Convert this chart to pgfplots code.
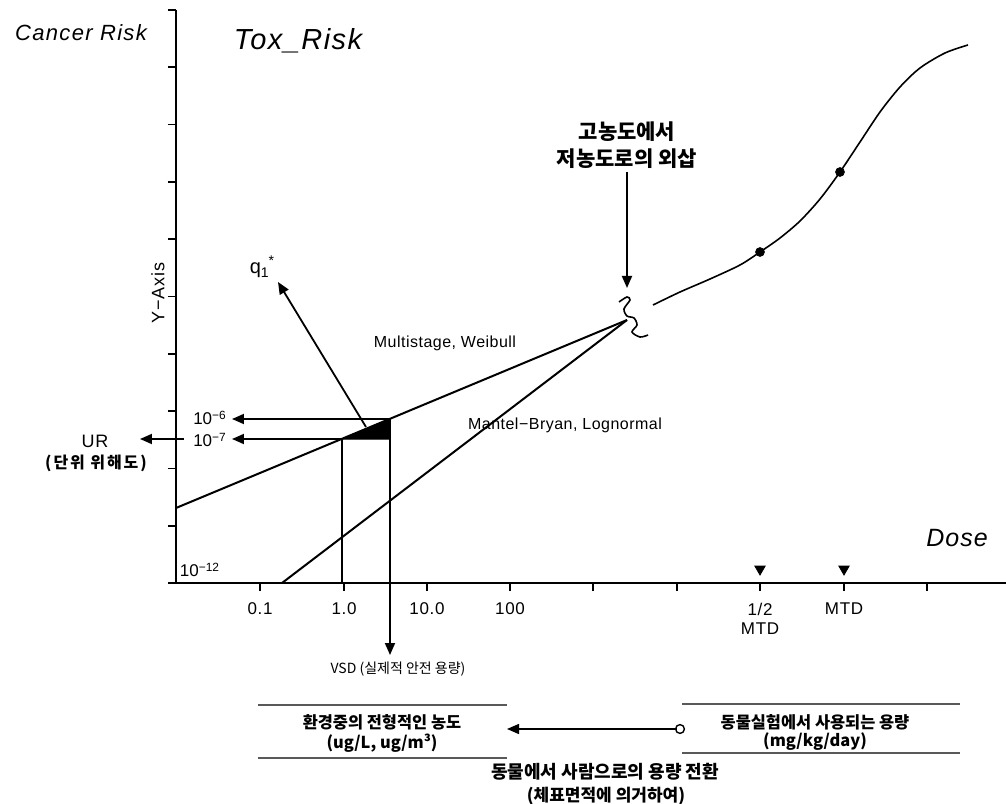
\documentclass[border=0pt]{standalone}
\usepackage{fontspec}
\setmainfont{Liberation Sans}
\newfontfamily\kr{Noto Sans CJK KR}
\usepackage{pgfplots}
\pgfplotsset{compat=1.18}
\usetikzlibrary{arrows.meta}
\begin{document}
\begin{tikzpicture}[>={Triangle[length=6pt,width=5pt]}]
\path[use as bounding box] (-88pt,-110pt) rectangle (415pt,291.5pt);
\begin{axis}[
  scale only axis, width=415pt, height=286.5pt,
  xmin=176, xmax=1006, ymin=0, ymax=573,
  axis x line*=bottom, axis y line*=left,
  axis line style={-, line width=1pt},
  clip=false,
  tick align=outside, major tick length=4pt,
  tick style={line width=0.8pt, black},
  xtick={260,344,427,510,593,677,760,844,927},
  xticklabels={0.1,1.0,10.0,100,,,{1/2\\MTD},MTD,},
  xticklabel style={align=center, font=\addfontfeature{LetterSpace=4}\fontsize{8.5}{9.5}\selectfont, yshift=-2.5pt},
  ytick={0,57.3,114.6,171.9,229.2,286.5,343.8,401.1,458.4,515.7,573},
  yticklabels={},
  /pgf/number format/assume math mode=true,
]
% model lines
\addplot[black, line width=1pt] coordinates {(176,75) (627,263)};
\addplot[black, line width=1pt] coordinates {(282,0) (627,263)};
\addplot[black, fill=black, line width=0.6pt] coordinates {(342,144) (390,164) (390,144)} -- cycle;
% arrows to risk levels
\addplot[black, line width=0.9pt, ->] coordinates {(390,164) (232,164)};
\addplot[black, line width=0.9pt, ->] coordinates {(342,144) (232,144)};
\addplot[black, line width=0.9pt] coordinates {(342,144) (342,0)};
\addplot[black, line width=0.9pt, ->] coordinates {(390,164) (390,-72)};
\addplot[black, line width=0.9pt, ->] coordinates {(366,156) (278,301)};
\addplot[black, line width=0.9pt, ->] coordinates {(184,144) (140,144)};
\addplot[black, line width=0.9pt, ->] coordinates {(627,411) (627,295)};
% wiggle
\addplot[black, line width=0.8pt, smooth] coordinates {(619,281) (627,286) (630,283) (624,274) (627,267) (634,265) (637,258) (632,251) (640,246) (648,248)};
% dose-response curve
\addplot[black, line width=0.8pt, smooth] coordinates {(653,278) (680,291) (710,304) (740,318) (760,331) (780,345) (800,362) (820,384) (840,411) (860,441) (880,471) (900,496) (920,515) (945,530) (968,538)};
\addplot[only marks, mark=*, mark size=2.2pt, black] coordinates {(760,331) (840,411)};
\addplot[only marks, mark=triangle*, mark size=3pt, black, mark options={rotate=180}] coordinates {(760,14) (844,14)};
% bottom boxes
\addplot[gray!70!black, line width=0.6pt] coordinates {(258,-122) (507,-122)};
\addplot[gray!70!black, line width=0.6pt] coordinates {(258,-175) (507,-175)};
\addplot[gray!70!black, line width=0.6pt] coordinates {(682,-121) (960,-121)};
\addplot[gray!70!black, line width=0.6pt] coordinates {(682,-170) (960,-170)};
\addplot[black, line width=0.7pt, ->] coordinates {(677,-146) (507,-146)};
\addplot[only marks, mark=o, mark size=2.2pt, black, mark options={fill=white, line width=0.7pt}] coordinates {(680,-146)};
% texts
\node[font=\itshape\addfontfeature{LetterSpace=6}\fontsize{11}{13}\selectfont] at (81,550) {Cancer Risk};
\node[font=\itshape\addfontfeature{LetterSpace=5}\fontsize{14.5}{16}\selectfont] at (298,542) {Tox\_Risk};
\node[rotate=90, font=\addfontfeature{LetterSpace=5}\fontsize{9}{10}\selectfont] at (158,290) {Y−Axis};
\node[font=\itshape\addfontfeature{LetterSpace=4}\fontsize{12.5}{14}\selectfont] at (957,45) {Dose};
\node[font=\addfontfeature{LetterSpace=3}\fontsize{8}{9}\selectfont] at (445,240) {Multistage, Weibull};
\node[font=\addfontfeature{LetterSpace=3}\fontsize{8}{9}\selectfont] at (565,158) {Mantel−Bryan, Lognormal};
\node[font=\fontsize{8.5}{9}\selectfont] at (210,165) {10\textsuperscript{−6}};
\node[font=\fontsize{8.5}{9}\selectfont] at (210,143) {10\textsuperscript{−7}};
\node[font=\fontsize{8.5}{9}\selectfont] at (200,13) {10\textsuperscript{−12}};
\node[font=\fontsize{10}{11}\selectfont] at (262,316) {q\raisebox{-2pt}{\scriptsize 1}\raisebox{4pt}{\scriptsize *}};
\node[font=\addfontfeature{LetterSpace=5}\fontsize{9}{10}\selectfont] at (95,142) {UR};
\node[font=\kr\bfseries\addfontfeature{LetterSpace=12}\fontsize{8}{9}\selectfont] at (96,120) {(단위 위해도)};
\node[font=\kr\bfseries\fontsize{10.5}{12}\selectfont] at (627,451) {고농도에서};
\node[font=\kr\bfseries\fontsize{10.5}{12}\selectfont] at (627,424) {저농도로의 외삽};
\node[font=\kr\fontsize{7}{8}\selectfont] at (398,-86) {VSD (실제적 안전 용량)};
\node[font=\kr\bfseries\fontsize{8.2}{9}\selectfont] at (382,-139) {환경중의 전형적인 농도};
\node[font=\kr\bfseries\fontsize{8.2}{9}\selectfont] at (382,-160) {(ug/L, ug/m³)};
\node[font=\kr\bfseries\fontsize{8.2}{9}\selectfont] at (815,-139) {동물실험에서 사용되는 용량};
\node[font=\kr\bfseries\fontsize{8.2}{9}\selectfont] at (815,-159) {(mg/kg/day)};
\node[font=\kr\bfseries\fontsize{9}{10}\selectfont] at (605,-189) {동물에서 사람으로의 용량 전환};
\node[font=\kr\bfseries\fontsize{8.5}{10}\selectfont] at (606,-213) {(체표면적에 의거하여)};
\end{axis}
\end{tikzpicture}
\end{document}
